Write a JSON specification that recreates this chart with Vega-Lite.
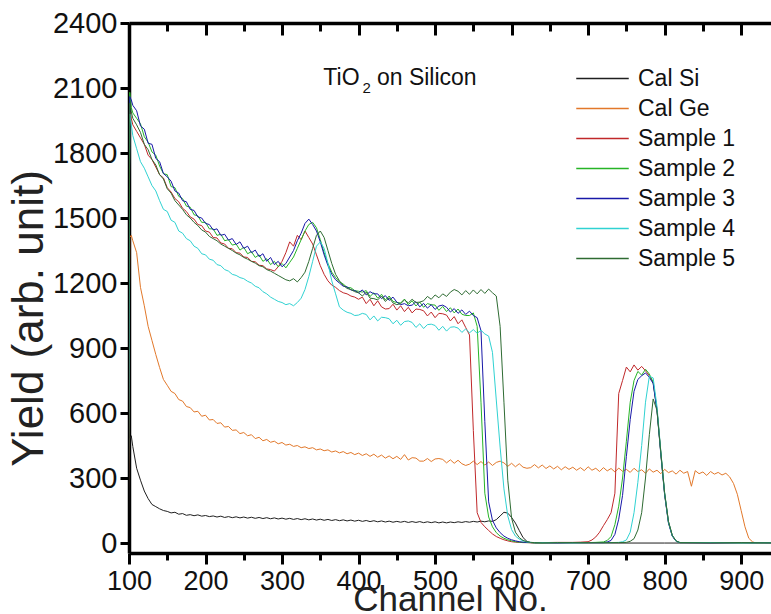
{
  "$schema": "https://vega.github.io/schema/vega-lite/v6.json",
  "autosize": {"type": "none"},
  "width": 642,
  "height": 530,
  "padding": {"left": 129, "top": 23, "right": 0, "bottom": 61},
  "background": "white",
  "config": {"view": {"stroke": null}, "font": "Liberation Sans"},
  "datasets": {
    "rbs": [
      {"c":99,"si":0,"ge":0,"s1":0,"s2":0,"s3":0,"s4":0,"s5":0},
      {"c":101,"si":480,"ge":1410,"s1":1990,"s2":2080,"s3":2060,"s4":1980,"s5":2030},
      {"c":103,"si":495,"ge":1420,"s1":1960,"s2":2010,"s3":2045,"s4":1930,"s5":1990},
      {"c":105,"si":445,"ge":1395,"s1":1930,"s2":1985,"s3":2020,"s4":1880,"s5":1960},
      {"c":110,"si":345,"ge":1340,"s1":1900,"s2":1960,"s3":1995,"s4":1820,"s5":1930},
      {"c":115,"si":290,"ge":1180,"s1":1870,"s2":1935,"s3":1925,"s4":1760,"s5":1895},
      {"c":120,"si":240,"ge":1095,"s1":1840,"s2":1875,"s3":1910,"s4":1730,"s5":1840},
      {"c":125,"si":205,"ge":1000,"s1":1790,"s2":1850,"s3":1845,"s4":1690,"s5":1815},
      {"c":130,"si":178,"ge":935,"s1":1770,"s2":1805,"s3":1840,"s4":1650,"s5":1770},
      {"c":135,"si":168,"ge":870,"s1":1735,"s2":1790,"s3":1775,"s4":1625,"s5":1745},
      {"c":140,"si":158,"ge":810,"s1":1700,"s2":1740,"s3":1760,"s4":1580,"s5":1700},
      {"c":145,"si":150,"ge":755,"s1":1685,"s2":1705,"s3":1705,"s4":1540,"s5":1680},
      {"c":150,"si":146,"ge":728,"s1":1640,"s2":1700,"s3":1690,"s4":1530,"s5":1635},
      {"c":155,"si":139,"ge":700,"s1":1620,"s2":1645,"s3":1670,"s4":1490,"s5":1615},
      {"c":160,"si":142,"ge":690,"s1":1590,"s2":1640,"s3":1625,"s4":1480,"s5":1580},
      {"c":165,"si":133,"ge":662,"s1":1575,"s2":1600,"s3":1615,"s4":1440,"s5":1560},
      {"c":170,"si":136,"ge":655,"s1":1545,"s2":1590,"s3":1580,"s4":1430,"s5":1540},
      {"c":175,"si":128,"ge":630,"s1":1530,"s2":1555,"s3":1575,"s4":1405,"s5":1515},
      {"c":180,"si":131,"ge":625,"s1":1505,"s2":1550,"s3":1540,"s4":1395,"s5":1500},
      {"c":185,"si":126,"ge":605,"s1":1495,"s2":1515,"s3":1535,"s4":1370,"s5":1480},
      {"c":190,"si":130,"ge":608,"s1":1470,"s2":1510,"s3":1505,"s4":1360,"s5":1465},
      {"c":195,"si":124,"ge":585,"s1":1465,"s2":1480,"s3":1500,"s4":1335,"s5":1445},
      {"c":200,"si":127,"ge":590,"s1":1440,"s2":1480,"s3":1475,"s4":1330,"s5":1435},
      {"c":205,"si":122,"ge":568,"s1":1435,"s2":1450,"s3":1470,"s4":1310,"s5":1415},
      {"c":210,"si":125,"ge":570,"s1":1410,"s2":1450,"s3":1445,"s4":1305,"s5":1405},
      {"c":215,"si":120,"ge":552,"s1":1408,"s2":1420,"s3":1450,"s4":1285,"s5":1395},
      {"c":220,"si":124,"ge":555,"s1":1385,"s2":1425,"s3":1420,"s4":1280,"s5":1380},
      {"c":225,"si":118,"ge":535,"s1":1380,"s2":1395,"s3":1425,"s4":1262,"s5":1370},
      {"c":230,"si":122,"ge":538,"s1":1360,"s2":1400,"s3":1398,"s4":1255,"s5":1360},
      {"c":235,"si":117,"ge":520,"s1":1358,"s2":1375,"s3":1405,"s4":1240,"s5":1350},
      {"c":240,"si":121,"ge":522,"s1":1340,"s2":1380,"s3":1378,"s4":1235,"s5":1338},
      {"c":245,"si":116,"ge":505,"s1":1338,"s2":1352,"s3":1390,"s4":1225,"s5":1330},
      {"c":250,"si":120,"ge":510,"s1":1320,"s2":1365,"s3":1360,"s4":1220,"s5":1318},
      {"c":255,"si":115,"ge":495,"s1":1318,"s2":1335,"s3":1370,"s4":1208,"s5":1310},
      {"c":260,"si":119,"ge":500,"s1":1300,"s2":1345,"s3":1340,"s4":1200,"s5":1300},
      {"c":265,"si":114,"ge":482,"s1":1298,"s2":1318,"s3":1352,"s4":1185,"s5":1292},
      {"c":270,"si":118,"ge":488,"s1":1282,"s2":1330,"s3":1322,"s4":1178,"s5":1280},
      {"c":275,"si":113,"ge":472,"s1":1280,"s2":1300,"s3":1335,"s4":1160,"s5":1275},
      {"c":280,"si":117,"ge":478,"s1":1265,"s2":1312,"s3":1300,"s4":1150,"s5":1262},
      {"c":285,"si":112,"ge":465,"s1":1262,"s2":1285,"s3":1318,"s4":1135,"s5":1255},
      {"c":290,"si":116,"ge":470,"s1":1255,"s2":1300,"s3":1285,"s4":1125,"s5":1245},
      {"c":295,"si":111,"ge":458,"s1":1275,"s2":1275,"s3":1300,"s4":1115,"s5":1235},
      {"c":300,"si":115,"ge":464,"s1":1300,"s2":1290,"s3":1275,"s4":1110,"s5":1225},
      {"c":305,"si":110,"ge":452,"s1":1340,"s2":1270,"s3":1290,"s4":1100,"s5":1215},
      {"c":310,"si":114,"ge":456,"s1":1390,"s2":1295,"s3":1320,"s4":1105,"s5":1210},
      {"c":315,"si":109,"ge":446,"s1":1370,"s2":1320,"s3":1350,"s4":1095,"s5":1220},
      {"c":320,"si":113,"ge":450,"s1":1420,"s2":1360,"s3":1395,"s4":1110,"s5":1205},
      {"c":325,"si":108,"ge":440,"s1":1400,"s2":1400,"s3":1430,"s4":1130,"s5":1225},
      {"c":330,"si":112,"ge":444,"s1":1440,"s2":1440,"s3":1475,"s4":1170,"s5":1250},
      {"c":335,"si":107,"ge":436,"s1":1410,"s2":1470,"s3":1495,"s4":1230,"s5":1300},
      {"c":340,"si":111,"ge":440,"s1":1380,"s2":1480,"s3":1470,"s4":1300,"s5":1360},
      {"c":345,"si":106,"ge":430,"s1":1330,"s2":1455,"s3":1440,"s4":1370,"s5":1420},
      {"c":350,"si":110,"ge":434,"s1":1280,"s2":1400,"s3":1390,"s4":1390,"s5":1440},
      {"c":355,"si":105,"ge":426,"s1":1240,"s2":1340,"s3":1330,"s4":1360,"s5":1410},
      {"c":360,"si":109,"ge":430,"s1":1210,"s2":1290,"s3":1280,"s4":1290,"s5":1350},
      {"c":365,"si":104,"ge":420,"s1":1190,"s2":1250,"s3":1240,"s4":1210,"s5":1290},
      {"c":370,"si":108,"ge":425,"s1":1180,"s2":1225,"s3":1215,"s4":1150,"s5":1240},
      {"c":375,"si":103,"ge":416,"s1":1165,"s2":1205,"s3":1200,"s4":1090,"s5":1210},
      {"c":380,"si":107,"ge":422,"s1":1155,"s2":1195,"s3":1185,"s4":1075,"s5":1190},
      {"c":385,"si":102,"ge":412,"s1":1150,"s2":1180,"s3":1182,"s4":1065,"s5":1175},
      {"c":390,"si":106,"ge":418,"s1":1140,"s2":1178,"s3":1168,"s4":1060,"s5":1170},
      {"c":395,"si":101,"ge":408,"s1":1135,"s2":1165,"s3":1165,"s4":1050,"s5":1160},
      {"c":400,"si":105,"ge":415,"s1":1125,"s2":1162,"s3":1155,"s4":1052,"s5":1155},
      {"c":405,"si":100,"ge":404,"s1":1135,"s2":1158,"s3":1168,"s4":1060,"s5":1140},
      {"c":410,"si":104,"ge":412,"s1":1105,"s2":1165,"s3":1145,"s4":1055,"s5":1158},
      {"c":415,"si":99,"ge":400,"s1":1125,"s2":1138,"s3":1160,"s4":1030,"s5":1130},
      {"c":420,"si":103,"ge":410,"s1":1095,"s2":1155,"s3":1150,"s4":1048,"s5":1128},
      {"c":425,"si":98,"ge":396,"s1":1118,"s2":1130,"s3":1150,"s4":1025,"s5":1122},
      {"c":430,"si":102,"ge":406,"s1":1090,"s2":1148,"s3":1128,"s4":1042,"s5":1140},
      {"c":435,"si":97,"ge":392,"s1":1080,"s2":1122,"s3":1142,"s4":1040,"s5":1115},
      {"c":440,"si":101,"ge":402,"s1":1082,"s2":1140,"s3":1120,"s4":1035,"s5":1132},
      {"c":445,"si":96,"ge":389,"s1":1102,"s2":1115,"s3":1135,"s4":1012,"s5":1108},
      {"c":450,"si":100,"ge":400,"s1":1075,"s2":1110,"s3":1112,"s4":1028,"s5":1100},
      {"c":455,"si":96,"ge":386,"s1":1095,"s2":1108,"s3":1100,"s4":1005,"s5":1105},
      {"c":460,"si":100,"ge":408,"s1":1068,"s2":1126,"s3":1105,"s4":1022,"s5":1122},
      {"c":465,"si":95,"ge":383,"s1":1088,"s2":1100,"s3":1095,"s4":1025,"s5":1108},
      {"c":470,"si":99,"ge":394,"s1":1062,"s2":1118,"s3":1098,"s4":1018,"s5":1125},
      {"c":475,"si":95,"ge":392,"s1":1080,"s2":1094,"s3":1114,"s4":995,"s5":1110},
      {"c":480,"si":99,"ge":378,"s1":1078,"s2":1112,"s3":1090,"s4":1012,"s5":1112},
      {"c":485,"si":94,"ge":378,"s1":1072,"s2":1088,"s3":1106,"s4":990,"s5":1118},
      {"c":490,"si":98,"ge":390,"s1":1048,"s2":1105,"s3":1084,"s4":1008,"s5":1138},
      {"c":495,"si":94,"ge":376,"s1":1066,"s2":1100,"s3":1100,"s4":1010,"s5":1125},
      {"c":500,"si":98,"ge":388,"s1":1040,"s2":1098,"s3":1078,"s4":1004,"s5":1145},
      {"c":505,"si":93,"ge":390,"s1":1060,"s2":1074,"s3":1094,"s4":982,"s5":1132},
      {"c":510,"si":97,"ge":386,"s1":1058,"s2":1092,"s3":1098,"s4":1000,"s5":1150},
      {"c":515,"si":93,"ge":370,"s1":1052,"s2":1068,"s3":1088,"s4":978,"s5":1138},
      {"c":520,"si":97,"ge":384,"s1":1025,"s2":1086,"s3":1066,"s4":996,"s5":1158},
      {"c":525,"si":94,"ge":368,"s1":1045,"s2":1062,"s3":1082,"s4":998,"s5":1170},
      {"c":530,"si":98,"ge":382,"s1":1012,"s2":1080,"s3":1060,"s4":992,"s5":1162},
      {"c":535,"si":95,"ge":366,"s1":1030,"s2":1056,"s3":1076,"s4":972,"s5":1145},
      {"c":540,"si":99,"ge":358,"s1":995,"s2":1050,"s3":1055,"s4":988,"s5":1165},
      {"c":545,"si":96,"ge":364,"s1":960,"s2":1050,"s3":1070,"s4":970,"s5":1148},
      {"c":550,"si":100,"ge":378,"s1":520,"s2":1062,"s3":1050,"s4":985,"s5":1168},
      {"c":555,"si":97,"ge":362,"s1":140,"s2":1000,"s3":1040,"s4":968,"s5":1150},
      {"c":560,"si":101,"ge":376,"s1":95,"s2":650,"s3":980,"s4":982,"s5":1170},
      {"c":565,"si":98,"ge":360,"s1":75,"s2":230,"s3":560,"s4":965,"s5":1152},
      {"c":570,"si":102,"ge":374,"s1":58,"s2":120,"s3":190,"s4":955,"s5":1172},
      {"c":575,"si":100,"ge":358,"s1":42,"s2":75,"s3":105,"s4":880,"s5":1155},
      {"c":580,"si":108,"ge":372,"s1":30,"s2":48,"s3":70,"s4":660,"s5":1140},
      {"c":585,"si":125,"ge":378,"s1":22,"s2":32,"s3":48,"s4":443,"s5":1000},
      {"c":590,"si":142,"ge":370,"s1":15,"s2":22,"s3":32,"s4":250,"s5":650},
      {"c":595,"si":138,"ge":354,"s1":10,"s2":15,"s3":22,"s4":125,"s5":290},
      {"c":600,"si":118,"ge":368,"s1":6,"s2":10,"s3":15,"s4":62,"s5":115},
      {"c":605,"si":92,"ge":352,"s1":4,"s2":6,"s3":10,"s4":32,"s5":50},
      {"c":610,"si":58,"ge":366,"s1":3,"s2":4,"s3":6,"s4":18,"s5":25},
      {"c":615,"si":25,"ge":350,"s1":2,"s2":3,"s3":4,"s4":10,"s5":12},
      {"c":620,"si":8,"ge":345,"s1":2,"s2":2,"s3":3,"s4":5,"s5":6},
      {"c":625,"si":2,"ge":348,"s1":1,"s2":2,"s3":2,"s4":3,"s5":3},
      {"c":630,"si":0,"ge":362,"s1":2,"s2":1,"s3":2,"s4":2,"s5":2},
      {"c":635,"ge":347},
      {"c":640,"ge":360,"s1":2,"s2":1,"s3":2,"s4":2,"s5":1},
      {"c":645,"ge":344},
      {"c":650,"ge":356},
      {"c":655,"ge":342},
      {"c":660,"ge":354,"s1":3,"s2":2,"s3":1,"s4":2,"s5":2},
      {"c":665,"ge":338},
      {"c":670,"ge":352},
      {"c":675,"ge":340},
      {"c":680,"ge":350,"s1":3,"s2":2,"s3":2,"s4":1,"s5":2},
      {"c":685,"ge":336},
      {"c":690,"ge":348,"s1":4},
      {"c":695,"ge":334},
      {"c":700,"ge":352,"s1":6,"s2":2,"s3":2,"s4":2,"s5":2,"si":0},
      {"c":705,"ge":336,"s1":14},
      {"c":710,"ge":345,"s1":28,"s2":3},
      {"c":715,"ge":330,"s1":50},
      {"c":720,"ge":348,"s1":80,"s2":5,"s3":2},
      {"c":725,"ge":333,"s1":108,"s2":12,"s3":5},
      {"c":730,"ge":344,"s1":140,"s2":30,"s3":12,"s4":2},
      {"c":735,"ge":328,"s1":230,"s2":85,"s3":40},
      {"c":737,"s1":420},
      {"c":740,"ge":346,"s1":690,"s2":170,"s3":110,"s4":3,"s5":2},
      {"c":745,"ge":331,"s1":750,"s2":300,"s3":220,"s4":6},
      {"c":750,"ge":340,"s1":812,"s2":470,"s3":400,"s4":14,"s5":3},
      {"c":755,"ge":326,"s1":790,"s2":650,"s3":570,"s4":50,"s5":8},
      {"c":760,"ge":345,"s1":822,"s2":750,"s3":700,"s4":140,"s5":20},
      {"c":765,"ge":330,"s1":798,"s2":792,"s3":755,"s4":280,"s5":60},
      {"c":770,"ge":338,"s1":815,"s2":775,"s3":772,"s4":450,"s5":140},
      {"c":775,"ge":322,"s1":795,"s2":802,"s3":785,"s4":650,"s5":300},
      {"c":780,"ge":342,"s1":772,"s2":780,"s3":765,"s4":770,"s5":500},
      {"c":785,"ge":327,"s1":740,"s2":742,"s3":736,"s4":762,"s5":665},
      {"c":790,"ge":336,"s1":618,"s2":615,"s3":610,"s4":630,"s5":612},
      {"c":795,"ge":320,"s1":418,"s2":415,"s3":410,"s4":425,"s5":420},
      {"c":800,"ge":340,"s1":228,"s2":225,"s3":222,"s4":232,"s5":232,"si":0},
      {"c":805,"ge":325,"s1":98,"s2":95,"s3":92,"s4":98,"s5":100},
      {"c":810,"ge":333,"s1":34,"s2":33,"s3":32,"s4":35,"s5":36},
      {"c":815,"ge":318,"s1":9,"s2":8,"s3":8,"s4":9,"s5":10},
      {"c":820,"ge":336,"s1":2,"s2":2,"s3":2,"s4":2,"s5":2},
      {"c":825,"ge":322},
      {"c":830,"ge":330},
      {"c":835,"ge":262},
      {"c":840,"ge":334},
      {"c":845,"ge":320},
      {"c":850,"ge":328},
      {"c":855,"ge":312},
      {"c":860,"ge":330,"s1":1,"s2":2,"s3":1,"s4":2,"s5":1},
      {"c":865,"ge":318},
      {"c":870,"ge":326},
      {"c":875,"ge":314},
      {"c":880,"ge":322},
      {"c":885,"ge":305},
      {"c":890,"ge":275},
      {"c":895,"ge":225},
      {"c":900,"ge":150,"s1":2,"s2":1,"s3":2,"s4":1,"s5":2},
      {"c":905,"ge":75},
      {"c":910,"ge":22},
      {"c":915,"ge":5},
      {"c":920,"ge":0},
      {"c":940,"ge":0,"si":0,"s1":1,"s2":1,"s3":1,"s4":1,"s5":1}
    ]
  },
  "layer": [
    {
      "data": {"name": "rbs"},
      "transform": [
        {"fold": ["si", "ge", "s1", "s2", "s3", "s4", "s5"], "as": ["series", "yield"]},
        {"filter": "isValid(datum.yield)"}
      ],
      "mark": {"type": "line", "strokeWidth": 1, "clip": true},
      "encoding": {
        "x": {
          "field": "c", "type": "quantitative",
          "scale": {"domain": [100, 939], "nice": false, "zero": false},
          "axis": {
            "orient": "bottom",
            "values": [100,150,200,250,300,350,400,450,500,550,600,650,700,750,800,850,900],
            "labelExpr": "datum.value % 100 === 0 ? datum.label : ''",
            "format": "d",
            "tickSize": {"condition": {"test": "datum.value % 100 === 0", "value": 11}, "value": 7},
            "tickWidth": 3, "tickColor": "black",
            "domainColor": "black", "domainWidth": 3.5,
            "labelFont": "Liberation Sans", "labelFontSize": 27, "labelColor": "#111",
            "labelPadding": 4, "labelFlush": false, "labelOverlap": false,
            "grid": false,
            "title": "Channel No.",
            "titleFont": "Liberation Sans", "titleFontSize": 35, "titleFontWeight": "normal", "titleColor": "#222",
            "titleY": 57, "titleBaseline": "alphabetic"
          }
        },
        "y": {
          "field": "yield", "type": "quantitative",
          "scale": {"domain": [-46, 2400], "nice": false, "zero": false},
          "axis": {
            "orient": "left",
            "values": [0,150,300,450,600,750,900,1050,1200,1350,1500,1650,1800,1950,2100,2250,2400],
            "labelExpr": "datum.value % 300 === 0 ? datum.label : ''",
            "format": "d",
            "tickSize": {"condition": {"test": "datum.value % 300 === 0", "value": 9}, "value": 6},
            "tickWidth": 3, "tickColor": "black",
            "domainColor": "black", "domainWidth": 3.5,
            "labelFont": "Liberation Sans", "labelFontSize": 29, "labelColor": "#111",
            "labelPadding": 3, "labelFlush": false, "labelOverlap": false,
            "grid": false,
            "title": "Yield (arb. unit)",
            "titleFont": "Liberation Sans", "titleFontSize": 44, "titleFontWeight": "normal", "titleColor": "#222",
            "titleAngle": -90, "titleX": -100, "titleY": 295, "titleAlign": "center", "titleBaseline": "middle"
          }
        },
        "color": {
          "field": "series", "type": "nominal",
          "scale": {
            "domain": ["si", "ge", "s1", "s2", "s3", "s4", "s5"],
            "range": ["#1f1f1f", "#e2782a", "#c0282a", "#26b426", "#1818a8", "#30d2d2", "#2e6b32"]
          },
          "legend": {
            "orient": "none", "legendX": 462, "legendY": 44,
            "title": null,
            "symbolType": "M-2.5,0H2.5", "symbolSize": 441, "symbolStrokeWidth": 1.5,
            "labelOffset": 24,
            "labelFont": "Liberation Sans", "labelFontSize": 23, "labelColor": "#111",
            "rowPadding": 6,
            "labelExpr": "datum.value == 'si' ? 'Cal Si' : datum.value == 'ge' ? 'Cal Ge' : 'Sample ' + substring(datum.value, 1)"
          }
        }
      }
    },
    {
      "data": {"values": [{}]},
      "mark": {"type": "rule", "opacity": 0},
      "encoding": {
        "x": {
          "datum": 100, "type": "quantitative",
          "axis": {
            "orient": "top",
            "values": [100,150,200,250,300,350,400,450,500,550,600,650,700,750,800,850,900],
            "labels": false, "title": null,
            "tickSize": {"condition": {"test": "datum.value % 100 === 0", "value": -12}, "value": -8},
            "tickWidth": 3, "tickColor": "black",
            "domainColor": "black", "domainWidth": 3.5,
            "grid": false
          }
        }
      }
    },
    {
      "data": {"values": [{}]},
      "mark": {"type": "text", "align": "left", "baseline": "middle", "font": "Liberation Sans", "fontSize": 23, "color": "#111"},
      "encoding": {
        "x": {"datum": 354, "type": "quantitative", "axis": null},
        "y": {"datum": 2148, "type": "quantitative"},
        "text": {"value": "TiO"}
      }
    },
    {
      "data": {"values": [{}]},
      "mark": {"type": "text", "align": "left", "baseline": "middle", "font": "Liberation Sans", "fontSize": 15, "color": "#111"},
      "encoding": {
        "x": {"datum": 405, "type": "quantitative", "axis": null},
        "y": {"datum": 2102, "type": "quantitative"},
        "text": {"value": "2"}
      }
    },
    {
      "data": {"values": [{}]},
      "mark": {"type": "text", "align": "left", "baseline": "middle", "font": "Liberation Sans", "fontSize": 23, "color": "#111"},
      "encoding": {
        "x": {"datum": 424, "type": "quantitative", "axis": null},
        "y": {"datum": 2148, "type": "quantitative"},
        "text": {"value": "on Silicon"}
      }
    }
  ],
  "resolve": {"axis": {"x": "independent"}}
}
